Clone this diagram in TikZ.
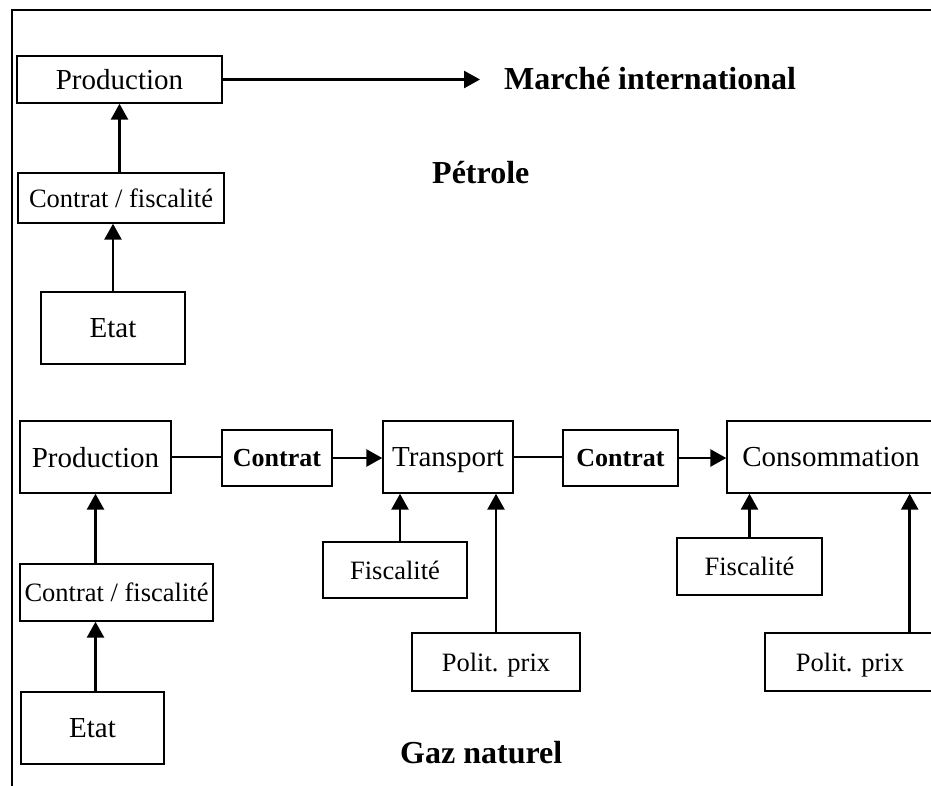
\documentclass[tikz,border=0pt]{standalone}
\usepackage{fontspec}
\setmainfont{Liberation Serif}
\usetikzlibrary{arrows.meta}

\tikzset{
  boite/.style={draw, line width=1.4pt, inner sep=0pt, text depth=0pt},
  grand/.style={font=\fontsize{29}{34}\selectfont},
  petit/.style={font=\fontsize{26.5}{32}\selectfont},
  gras/.style={font=\bfseries\fontsize{26}{32}\selectfont},
  titre/.style={font=\bfseries\fontsize{32}{38}\selectfont, inner sep=0pt},
  fleche/.style={line width=2.7pt, -{Triangle[length=16pt,width=17pt]}},
  lien/.style={line width=1.6pt},
  cadre/.style={line width=2.2pt},
}

\begin{document}
\begin{tikzpicture}[x=1pt,y=-1pt]

    \useasboundingbox (0,0) rectangle (931,785);
    \clip (0,0) rectangle (931,785);

    \draw[cadre] (12,795) -- (12,10) -- (940,10);

    % petrole
    \node[boite,grand,minimum width=205pt,minimum height=47pt] (prodP) at (119.5,79.5) {Production};
    \node[boite,petit,minimum width=206pt,minimum height=50pt] (cfP) at (121,198) {Contrat / fiscalité};
    \node[boite,grand,minimum width=144pt,minimum height=72pt] (etatP) at (113,328) {Etat};
    \coordinate (marche) at (480,81);
    \node[titre,anchor=base west] (marcheT) at (504,89) {Marché international};
    \node[titre,anchor=base west] (petrole) at (432,183) {Pétrole};

    \draw[fleche] (prodP.east) -- (prodP.east -| marche);
    \draw[fleche] (cfP.north -| prodP.south) -- (prodP.south);
    \draw[fleche] (etatP.north) -- (etatP.north |- cfP.south);

    % gaz naturel
    \node[boite,grand,minimum width=151pt,minimum height=72pt] (prodG) at (95.5,457) {Production};
    \node[boite,gras,minimum width=110pt,minimum height=56pt] (contrat1) at (277,458) {Contrat};
    \node[boite,grand,minimum width=130pt,minimum height=72pt] (transport) at (448,457) {Transport};
    \node[boite,gras,minimum width=115pt,minimum height=56pt] (contrat2) at (620.5,458) {Contrat};
    \node[boite,grand,minimum width=208pt,minimum height=72pt] (conso) at (831,457) {Consommation};
    \node[boite,petit,minimum width=193pt,minimum height=57pt] (cfG) at (116.5,592.5) {Contrat / fiscalité};
    \node[boite,grand,minimum width=143pt,minimum height=72pt] (etatG) at (92.5,728) {Etat};
    \node[boite,petit,minimum width=144pt,minimum height=56pt] (fisc1) at (395,570) {Fiscalité};
    \node[boite,petit,minimum width=168pt,minimum height=58pt] (polit1) at (496,662) {Polit. prix};
    \node[boite,petit,minimum width=145pt,minimum height=57pt] (fisc2) at (749.5,566.5) {Fiscalité};
    \node[boite,petit,minimum width=170pt,minimum height=58pt] (polit2) at (850,662) {Polit. prix};
    \node[titre,anchor=base west] (gaz) at (400,763) {Gaz naturel};

    \draw[lien] (prodG.east) -- (prodG.east -| contrat1.west);
    \draw[fleche] (contrat1.east) -- (contrat1.east -| transport.west);
    \draw[lien] (transport.east) -- (transport.east -| contrat2.west);
    \draw[fleche] (contrat2.east) -- (contrat2.east -| conso.west);

    \draw[fleche] (cfG.north -| prodG.south) -- (prodG.south);
    \draw[fleche] (etatG.north -| prodG.south) -- (cfG.south -| prodG.south);
    \draw[fleche] ([xshift=5pt]fisc1.north) -- ([xshift=5pt]fisc1.north |- transport.south);
    \draw[fleche] (polit1.north) -- (polit1.north |- transport.south);
    \draw[fleche] (fisc2.north) -- (fisc2.north |- conso.south);
    \draw[fleche] ([xshift=-26pt]polit2.north east) -- ([xshift=-26pt]polit2.north east |- conso.south);

\end{tikzpicture}
\end{document}
